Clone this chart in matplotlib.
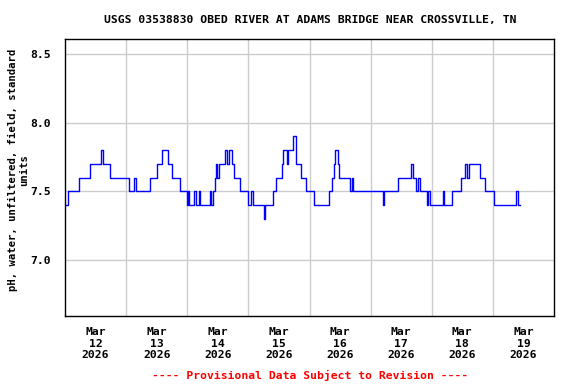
import numpy as np
import matplotlib
matplotlib.use("Agg")
import matplotlib.pyplot as plt

# -------------------------------------------------------
# Data
# -------------------------------------------------------
START = np.datetime64("2026-03-12T00:00")

# hours since Mar 12 00:00 where the reading changes, and the new reading
hours = [0.25, 1.0, 5.5, 10.0, 14.0, 14.75, 17.75, 25.0, 27.25, 27.75,
         33.5, 36.25, 38.25, 40.5, 42.0, 45.0, 47.75, 48.25, 48.5, 50.5,
         51.25, 52.5, 53.0, 56.75, 57.5, 58.0, 58.75, 59.25, 59.75, 60.5,
         62.75, 63.5, 64.25, 65.75, 66.5, 68.75, 72.0, 73.0, 74.0, 78.0,
         78.5, 81.75, 83.0, 85.25, 85.75, 87.25, 87.75, 89.5, 90.75, 92.75,
         94.5, 97.75, 103.5, 104.75, 105.5, 106.0, 107.0, 107.75, 112.0, 112.5,
         113.0, 124.75, 125.25, 130.75, 135.75, 136.75, 138.0, 138.75, 139.25, 142.0,
         142.5, 143.25, 148.5, 149.0, 152.0, 155.5, 157.25, 158.0, 158.5, 162.75,
         164.75, 168.5, 177.0, 178.0, 178.75]
ph = [7.4, 7.5, 7.6, 7.7, 7.8, 7.7, 7.6, 7.5, 7.6, 7.5,
      7.6, 7.7, 7.8, 7.7, 7.6, 7.5, 7.4, 7.5, 7.4, 7.5,
      7.4, 7.5, 7.4, 7.5, 7.4, 7.5, 7.6, 7.7, 7.6, 7.7,
      7.8, 7.7, 7.8, 7.7, 7.6, 7.5, 7.4, 7.5, 7.4, 7.3,
      7.4, 7.5, 7.6, 7.7, 7.8, 7.7, 7.8, 7.9, 7.7, 7.6,
      7.5, 7.4, 7.5, 7.6, 7.7, 7.8, 7.7, 7.6, 7.5, 7.6,
      7.5, 7.4, 7.5, 7.6, 7.7, 7.6, 7.5, 7.6, 7.5, 7.4,
      7.5, 7.4, 7.5, 7.4, 7.5, 7.6, 7.7, 7.6, 7.7, 7.6,
      7.5, 7.4, 7.5, 7.4, 7.4]

y_ticks = [7.0, 7.5, 8.0, 8.5]
day_labels = ["Mar\n12\n2026", "Mar\n13\n2026", "Mar\n14\n2026", "Mar\n15\n2026",
              "Mar\n16\n2026", "Mar\n17\n2026", "Mar\n18\n2026", "Mar\n19\n2026"]

TITLE = "USGS 03538830 OBED RIVER AT ADAMS BRIDGE NEAR CROSSVILLE, TN"
YLABEL = "pH, water, unfiltered, field, standard\nunits"
NOTE = "---- Provisional Data Subject to Revision ----"

# -------------------------------------------------------
# Plot
# -------------------------------------------------------
FONT = dict(family="DejaVu Sans Mono", weight="bold", size=8.2)


def to_dt(x):
    return x.astype("datetime64[s]").astype(object)


t = START + (np.array(hours) * 60).astype("timedelta64[m]")
t = to_dt(t)

fig = plt.figure(figsize=(5.76, 3.84), dpi=100)
ax = fig.add_axes([65 / 576, 1 - 316 / 384, 489 / 576, 277 / 384])

ax.plot(t, ph, color="#0000ff", linewidth=1.0, drawstyle="steps-post")

ax.set_xlim(to_dt(START), to_dt(START + np.timedelta64(8, "D")))
ax.set_ylim(6.59, 8.61)

# gridlines at midnight, labels at noon
midnights = [to_dt(START + np.timedelta64(d, "D")) for d in range(1, 8)]
noons = [to_dt(START + np.timedelta64(d * 24 + 12, "h")) for d in range(8)]
ax.set_xticks(midnights)
ax.set_xticklabels([])
ax.set_xticks(noons, minor=True)
ax.set_xticklabels(day_labels, minor=True, **FONT)
ax.tick_params(axis="x", which="both", length=0, pad=8)

ax.set_yticks(y_ticks)
ax.set_yticklabels([f"{v:.1f}" for v in y_ticks], **FONT)
ax.tick_params(axis="y", length=0, pad=10)

ax.grid(True, which="major", color="#cccccc", linewidth=1.0)
ax.set_axisbelow(True)
for s in ax.spines.values():
    s.set_color("black")
    s.set_linewidth(1.0)

fig.text(310 / 576, 1 - 20 / 384, TITLE, ha="center", va="center", **FONT)
fig.text(19 / 576, 1 - 170 / 384, YLABEL, ha="center", va="center",
         rotation=90, linespacing=1.15,
         family="DejaVu Sans Mono", weight="bold", size=7.6)
fig.text(310 / 576, 1 - 375 / 384, NOTE, ha="center", va="center",
         color="red", **FONT)

fig.savefig("out.png", dpi=100)
